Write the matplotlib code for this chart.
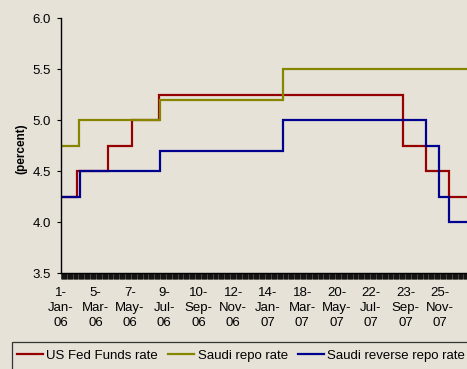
import matplotlib
matplotlib.use("Agg")
import matplotlib.pyplot as plt
import matplotlib.dates as mdates
from matplotlib.patches import Rectangle
from matplotlib.ticker import FixedLocator, FixedFormatter, MultipleLocator, FormatStrFormatter
import datetime as dt

plt.rcParams["font.family"] = ["Liberation Sans", "DejaVu Sans"]

# Policy rate changes: (date the new rate took effect, rate in percent)
fed_dates = ["2006-01-01", "2006-01-31", "2006-03-28", "2006-05-10", "2006-06-29",
             "2007-09-18", "2007-10-31", "2007-12-11"]
fed_rates = [4.25, 4.50, 4.75, 5.00, 5.25, 4.75, 4.50, 4.25]

repo_dates = ["2006-01-01", "2006-02-03", "2006-07-01", "2007-02-11"]
repo_rates = [4.75, 5.00, 5.20, 5.50]

rrepo_dates = ["2006-01-01", "2006-02-05", "2006-07-01", "2007-02-11",
               "2007-10-31", "2007-11-23", "2007-12-11"]
rrepo_rates = [4.25, 4.50, 4.70, 5.00, 4.75, 4.25, 4.00]

series_end = "2008-01-31"

series_names = ["US Fed Funds rate", "Saudi repo rate", "Saudi reverse repo rate"]
series_colors = ["#960000", "#858500", "#00008f"]

label_dates = ["2006-01-01", "2006-03-05", "2006-05-07", "2006-07-09", "2006-09-10",
               "2006-11-12", "2007-01-14", "2007-03-18", "2007-05-20", "2007-07-22",
               "2007-09-23", "2007-11-25"]

y_label = "(percent)"

bg = "#e6e2d8"


def to_dates(strings):
    return [dt.datetime.strptime(s, "%Y-%m-%d") for s in strings]


W, H = 467, 369
fig = plt.figure(figsize=(W / 100, H / 100), dpi=100, facecolor=bg)
ax = fig.add_axes([61 / W, 1 - 273 / H, (W - 61) / W, 255 / H], facecolor=bg)

end = dt.datetime.strptime(series_end, "%Y-%m-%d")
for dates, rates, name, color in zip(
        [fed_dates, repo_dates, rrepo_dates],
        [fed_rates, repo_rates, rrepo_rates],
        series_names, series_colors):
    x = to_dates(dates) + [end]
    y = list(rates) + [rates[-1]]
    ax.step(x, y, where="post", color=color, lw=1.6, label=name,
            solid_joinstyle="miter")

x0 = dt.datetime(2006, 1, 1)
ax.set_xlim(x0, x0 + dt.timedelta(days=742.4))
ax.set_ylim(3.5, 6.0)

ax.yaxis.set_major_locator(MultipleLocator(0.5))
ax.yaxis.set_major_formatter(FormatStrFormatter("%.1f"))

ld = to_dates(label_dates)
ax.xaxis.set_major_locator(FixedLocator(mdates.date2num(ld)))
ax.xaxis.set_major_formatter(FixedFormatter(
    [f"{d.day}-\n{d.strftime('%b')}-\n{d.strftime('%y')}" for d in ld]))
ax.xaxis.set_minor_locator(mdates.DayLocator())

for lab in ax.get_xticklabels():
    lab.set_linespacing(1.3)

ax.tick_params(axis="y", direction="out", length=3, width=0.8, pad=4.5,
               labelsize=9.5, colors="black")
ax.tick_params(axis="x", which="both", direction="out", length=4.3, width=0.5,
               pad=6, labelsize=9.5, colors="black")

for s in ("top", "right"):
    ax.spines[s].set_visible(False)
for s in ("left", "bottom"):
    ax.spines[s].set_color("black")
    ax.spines[s].set_linewidth(1.0)

fig.text(21.3 / W, 1 - 148.7 / H, y_label, rotation=90, ha="center", va="center",
         fontsize=8.5, fontweight="bold")

# Legend box runs past the right and bottom edges of the figure
fig.patches.append(Rectangle((11.7 / W, -0.1), 1.2, (H - 342.3) / H + 0.1,
                             transform=fig.transFigure, facecolor=bg,
                             edgecolor="#333333", linewidth=0.9, zorder=0))

leg = fig.legend(loc="upper left", bbox_to_anchor=(11.7 / W, 1 - 344.5 / H),
                 ncol=3, fontsize=9.5, frameon=False,
                 borderpad=0.4, handlelength=1.97, handletextpad=0.25,
                 columnspacing=0.78, borderaxespad=0)

fig.savefig("out.png", dpi=100, facecolor=bg)
